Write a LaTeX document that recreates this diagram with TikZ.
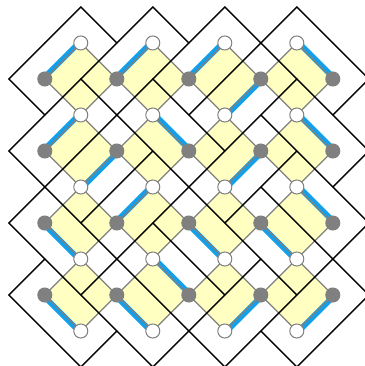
\documentclass[tikz,border=0pt]{standalone}
\usetikzlibrary{positioning}
\definecolor{bondBlue}{HTML}{12A0EA}
\definecolor{cellYellow}{HTML}{FFFFC2}
\definecolor{dotGray}{HTML}{808080}

\begin{document}
\begin{tikzpicture}[x=1cm, y=-1cm,
    cellFill/.style={fill=cellYellow, rounded corners=2pt},
    cellEdge/.style={draw=dotGray, line width=1pt, rounded corners=2pt},
    bondLine/.style={draw=bondBlue, line width=4.4pt},
    wallLine/.style={draw=black, line width=1.1pt, line cap=round, line join=miter},
    grayDot/.style={circle, draw=dotGray, fill=dotGray, line width=0.8pt, minimum size=0.39cm, inner sep=0pt},
    whiteDot/.style={circle, draw=dotGray, fill=white, line width=0.8pt, minimum size=0.39cm, inner sep=0pt},
]
\clip (-0.244,-0.194) rectangle (9.894,9.972);
\foreach \i in {0,...,4} \foreach \j in {0,...,3} \coordinate (g-\i-\j) at (1+2*\i, 2+2*\j);
\foreach \i in {0,...,3} \foreach \j in {0,...,4} \coordinate (w-\i-\j) at (2+2*\i, 1+2*\j);
\foreach \i in {0,...,3} \foreach \j in {0,...,3} \coordinate (c-\i-\j) at (2+2*\i, 2+2*\j);
\foreach \i in {0,...,3} \foreach \j in {0,...,3} {
    \pgfmathtruncatemacro\ii{\i+1}
    \pgfmathtruncatemacro\jj{\j+1}
    \path[cellFill] (g-\i-\j) -- (w-\i-\j) -- (g-\ii-\j) -- (w-\i-\jj) -- cycle;
}
% dimers
\foreach \a/\b/\dx/\dy in {
    g-0-0/w-0-0/-1/-1, g-1-0/w-1-0/-1/-1, g-2-0/w-2-0/-1/-1, g-3-0/w-2-1/1/1, w-3-0/g-4-0/1/-1,
    g-0-1/w-0-1/-1/-1, g-1-1/w-0-2/1/1, w-1-1/g-2-1/1/-1, g-3-1/w-2-2/1/1, w-3-1/g-4-1/1/-1,
    g-0-2/w-0-3/-1/1, g-1-2/w-1-2/-1/-1, g-2-2/w-2-3/-1/1, g-3-2/w-3-3/-1/1, w-3-2/g-4-2/1/-1,
    g-0-3/w-0-4/-1/1, g-1-3/w-1-4/-1/1, w-1-3/g-2-3/1/-1, g-3-3/w-2-4/1/1, g-4-3/w-3-4/1/1}
    \draw[bondLine] ([shift={(0.028*\dx,0.028*\dy)}]\a) -- ([shift={(0.028*\dx,0.028*\dy)}]\b);
\foreach \i in {0,...,3} \foreach \j in {0,...,3} {
    \pgfmathtruncatemacro\ii{\i+1}
    \pgfmathtruncatemacro\jj{\j+1}
    \draw[cellEdge] (g-\i-\j) -- (w-\i-\j) -- (g-\ii-\j) -- (w-\i-\jj) -- cycle;
}
% dual lines: outer corners
\foreach \j in {0,...,3} {
    \draw[wallLine] (g-0-\j) ++(0,-1) -- ++(-1,1) -- ++(1,1);
    \draw[wallLine] (g-4-\j) ++(0,-1) -- ++(1,1) -- ++(-1,1);
}
\foreach \i in {0,...,3} {
    \draw[wallLine] (w-\i-0) ++(-1,0) -- ++(1,-1) -- ++(1,1);
    \draw[wallLine] (w-\i-4) ++(-1,0) -- ++(1,1) -- ++(1,-1);
}
% dual lines: one across every edge without a dimer
\foreach \i/\j/\arms in {
    0/0/{1/-1,1/1,-1/1},   1/0/{1/-1,1/1,-1/1},   2/0/{1/-1,-1/1},       3/0/{-1/-1,1/1,-1/1},
    0/1/{1/-1,-1/1},       1/1/{-1/-1,1/1,-1/1},  2/1/{-1/-1,1/-1,-1/1}, 3/1/{-1/-1,1/1,-1/1},
    0/2/{-1/-1,1/-1,1/1},  1/2/{1/-1,1/1,-1/1},   2/2/{-1/-1,1/-1,1/1},  3/2/{-1/-1,1/1},
    0/3/{-1/-1,1/-1,1/1},  1/3/{-1/-1,1/1},       2/3/{-1/-1,1/-1,-1/1}, 3/3/{-1/-1,1/-1,-1/1}}
    \foreach \dx/\dy in \arms \draw[wallLine] (c-\i-\j) -- ++(\dx,\dy);
\foreach \i in {0,...,4} \foreach \j in {0,...,3} \node[grayDot] (gd-\i-\j) at (g-\i-\j) {};
\foreach \i in {0,...,3} \foreach \j in {0,...,4} \node[whiteDot] (wd-\i-\j) at (w-\i-\j) {};
\end{tikzpicture}
\end{document}
